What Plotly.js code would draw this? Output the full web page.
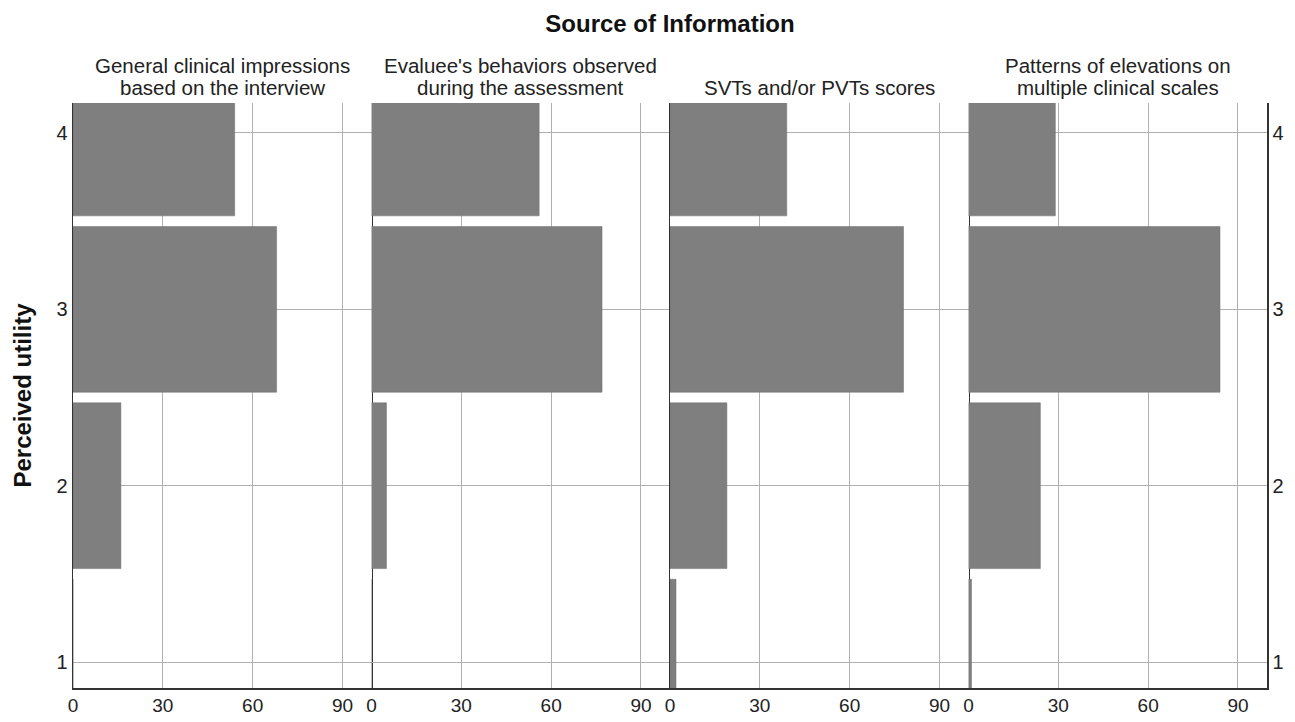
<!DOCTYPE html>
<html>
<head>
<meta charset="utf-8">
<script src="https://cdn.plot.ly/plotly-3.0.1.min.js"></script>
<style>html,body{margin:0;padding:0;background:#fff;}#chart{width:1295px;height:722px;}</style>
</head>
<body>
<div id="chart"></div>
<script>
// Data (counts, N = 138 per source)
const utility = [1, 2, 3, 4];
const sources = [
  "General clinical impressions<br>based on the interview",
  "Evaluee's behaviors observed<br>during the assessment",
  "SVTs and/or PVTs scores",
  "Patterns of elevations on<br>multiple clinical scales"
];
const generalImpressions = [0, 16, 68, 54];
const evalueeBehaviors   = [0, 5, 77, 56];
const svtPvtScores       = [2, 19, 78, 39];
const elevationPatterns  = [1, 24, 84, 29];
const xTicks = [0, 30, 60, 90];
const yTicks = [1, 2, 3, 4];

const series = [generalImpressions, evalueeBehaviors, svtPvtScores, elevationPatterns];

const FONT = "Liberation Sans, Arial, sans-serif";
const barColor = "#7f7f7f";
const gridColor = "#b0b0b0";
const lineColor = "#333333";

const traces = series.map((vals, i) => ({
  type: "bar",
  orientation: "h",
  x: vals,
  y: utility,
  width: 0.94,
  xaxis: i === 0 ? "x" : "x" + (i + 1),
  yaxis: i === 0 ? "y" : "y" + (i + 1),
  marker: {color: barColor, line: {color: "#6e6e6e", width: 0.5}},
  hoverinfo: "x+y",
  showlegend: false
}));

const L = 73, R = 1267, W = 1295;
const layout = {
  width: 1295, height: 722,
  margin: {l: L, r: W - R, t: 103, b: 34},
  paper_bgcolor: "#fff", plot_bgcolor: "#fff",
  font: {family: FONT, size: 19, color: "#222"},
  bargap: 0,
  title: {text: "<b>Source of Information</b>", font: {family: FONT, size: 24, color: "#111"},
          x: 0.5, xref: "paper", xanchor: "center", y: 0.967, yref: "container", yanchor: "middle"},
  annotations: [],
  showlegend: false
};

const yRange = [0.853, 4.17];
for (let i = 0; i < 4; i++) {
  const xs = i === 0 ? "xaxis" : "xaxis" + (i + 1);
  const ys = i === 0 ? "yaxis" : "yaxis" + (i + 1);
  const yid = i === 0 ? "y" : "y" + (i + 1);
  const xid = i === 0 ? "x" : "x" + (i + 1);
  layout[xs] = {
    domain: [i / 4, (i + 1) / 4],
    anchor: yid,
    range: [0, 99.7],
    tickvals: xTicks,
    ticktext: xTicks.map(String),
    showgrid: true, gridcolor: gridColor, gridwidth: 1,
    zeroline: false,
    showline: true, linecolor: lineColor, linewidth: 1.5,
    ticks: "", ticklen: 0,
    tickfont: {family: FONT, size: 19, color: "#222"},
    fixedrange: true
  };
  layout[ys] = {
    anchor: xid,
    range: yRange,
    tickvals: yTicks,
    ticktext: yTicks.map(String),
    showgrid: true, gridcolor: gridColor, gridwidth: 1,
    zeroline: false,
    showline: i !== 1, linecolor: lineColor, linewidth: 1.5,
    mirror: (i === 0 || i === 2),
    showticklabels: (i === 0 || i === 3),
    side: i === 3 ? "right" : "left",
    ticks: "",
    tickfont: {family: FONT, size: 20, color: "#222"},
    fixedrange: true
  };
  if (i === 0) {
    layout[ys].title = {text: "<b>Perceived utility</b>", font: {family: FONT, size: 24, color: "#111"}, standoff: 18};
  }
  const lines = sources[i].split("<br>");
  lines.forEach((ln, k) => {
    const fromBottom = lines.length - 1 - k;
    layout.annotations.push({
      text: ln,
      xref: xid + " domain", x: 0.5, xanchor: "center",
      yref: "paper", y: 1, yanchor: "bottom", yshift: 2 + 22 * fromBottom,
      showarrow: false,
      font: {family: FONT, size: 20.5, color: "#222"},
      align: "center"
    });
  });
}

Plotly.newPlot("chart", traces, layout, {displayModeBar: false, staticPlot: true});
</script>
</body>
</html>
